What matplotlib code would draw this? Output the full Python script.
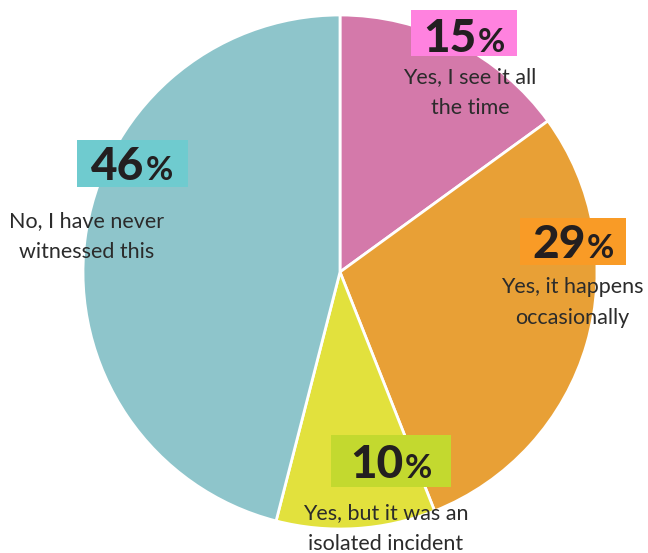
import matplotlib
matplotlib.use("Agg")
import matplotlib.pyplot as plt
from matplotlib.patches import Rectangle

# ---- data ----
labels = ["Yes, I see it all\nthe time", "Yes, it happens\noccasionally",
          "Yes, but it was an\nisolated incident", "No, I have never\nwitnessed this"]
values = [15, 29, 10, 46]
slice_colors = ["#D479AA", "#E8A036", "#E2E13D", "#8EC5CB"]
box_colors = ["#FF82DF", "#F99B26", "#C3D92F", "#6FCBCF"]

W, H = 648, 553
fig = plt.figure(figsize=(W / 100, H / 100), dpi=100)
ax = fig.add_axes([0, 0, 1, 1])

def py(y):
    return H - y

ax.pie(values, colors=slice_colors, startangle=90, counterclock=False,
       center=(340, py(272)), radius=257, frame=True,
       wedgeprops=dict(edgecolor="white", linewidth=2))
ax.set_xlim(0, W)
ax.set_ylim(0, H)
ax.axis("off")

# layout (pixel coords): box center x, center y, width, height, digit baseline, text center x, first baseline
layout = [
    (464, 33, 106, 46, 52, 470, 83),
    (573, 241, 106, 47, 258, 572, 293),
    (391, 461, 120, 52, 478, 386, 519),
    (132, 163, 111, 47, 180, 87, 227),
]
line_gap = 31

num_font = dict(family="Lato", weight="black", size=33, color="#231F20")
pct_font = dict(family="Lato", weight="bold", size=24, color="#231F20")
lab_font = dict(family="Lato", size=15.5, color="#2B2B2B")

pairs = []
for v, bc, (cx, cy, bw, bh, base, tx, tb), lab in zip(values, box_colors, layout, labels):
    ax.add_patch(Rectangle((cx - bw / 2, py(cy + bh / 2)), bw, bh,
                           facecolor=bc, edgecolor="none", zorder=3))
    t1 = ax.text(cx, py(base), str(v), ha="left", va="baseline", zorder=4, **num_font)
    t2 = ax.text(cx, py(base), "%", ha="left", va="baseline", zorder=4, **pct_font)
    pairs.append((t1, t2, cx))
    for i, line in enumerate(lab.split("\n")):
        ax.text(tx, py(tb + i * line_gap), line, ha="center", va="baseline",
                zorder=4, **lab_font)

fig.canvas.draw()
r = fig.canvas.get_renderer()
gap = 1
for t1, t2, cx in pairs:
    w1 = t1.get_window_extent(r).width
    w2 = t2.get_window_extent(r).width
    x0 = cx - (w1 + gap + w2) / 2
    y = t1.get_position()[1]
    t1.set_position((x0, y))
    t2.set_position((x0 + w1 + gap, y))

fig.savefig("out.png", dpi=100)
